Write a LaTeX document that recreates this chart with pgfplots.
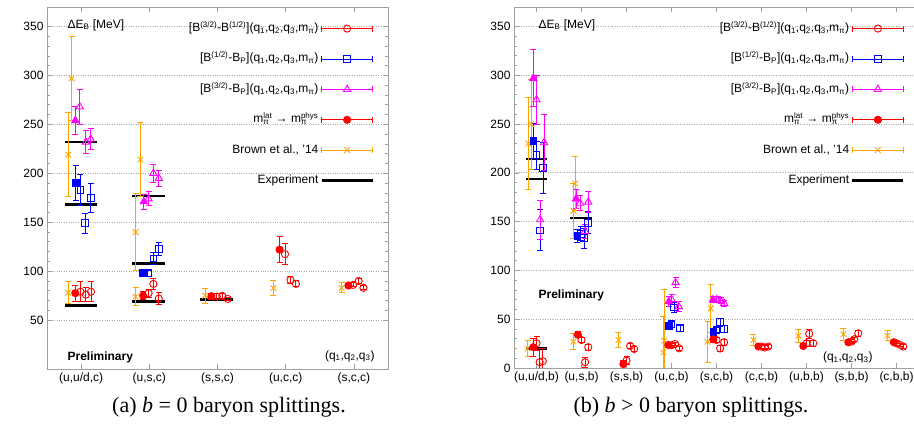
\documentclass[border=0pt]{standalone}
\usepackage{fontspec}
\setmainfont{Liberation Sans}
\newfontfamily\capfont{Liberation Serif}
\usepackage{pgfplots}
\pgfplotsset{compat=1.18}
\definecolor{gporange}{RGB}{255,165,0}
\definecolor{gpmag}{RGB}{255,0,255}
\definecolor{gpred}{RGB}{255,0,0}
\definecolor{gpblue}{RGB}{0,0,255}
\definecolor{gpframe}{RGB}{160,160,160}
\definecolor{gpgrid}{RGB}{170,170,170}

\newcommand\supsub[2]{{\setbox0\hbox{\textsuperscript{#1}}\setbox2\hbox{\textsubscript{#2}}%
  \ifdim\wd0>\wd2 \rlap{\box2}\box0\else\rlap{\box0}\box2\fi}}

\pgfplotsset{
  gpaxis/.style={
    scale only axis, anchor=south west,
    ymin=0, ymax=370, xmin=0.5,
    axis line style={gpframe, line width=0.7pt},
    tick style={gpframe, line width=0.7pt},
    major tick length=5pt, minor tick length=3pt,
    tick align=inside,
    minor y tick num=4,
    ymajorgrids, grid style={gpgrid, dotted, line width=0.8pt},
    /pgf/number format/assume math mode=true,
    tick label style={font=\fontsize{12}{14}\selectfont},
    legend plot pos=right,
    legend cell align=right,
    legend style={draw=none, fill=none, inner sep=0pt, anchor=north east,
      row sep=14.4pt,
      nodes={inner sep=2pt, text height=9pt, text depth=3pt, font=\fontsize{12}{14}\selectfont}},
  },
  eb/.style={only marks, line width=0.9pt, mark size=#1,
    error bars/y dir=both, error bars/y explicit,
    error bars/error bar style={line width=0.9pt},
    error bars/error mark options={rotate=90, mark size=3pt, line width=0.9pt}},
  expt/.style={only marks, mark=none, mark size=0pt, mark options={draw=none, fill=none}, black,
    error bars/x dir=both, error bars/x fixed=0.24, error bars/error mark=none,
    error bars/error bar style={line width=2.4pt, black}},
  legerr/.style n args={3}{legend image code/.code={
    \draw[#1,line width=0.9pt] (0pt,0pt)--(51pt,0pt) (0pt,-3pt)--(0pt,3pt) (51pt,-3pt)--(51pt,3pt);
    \draw[#1,line width=0.9pt] plot[mark=#2, mark size=#3] coordinates {(25.5pt,0pt)};}},
  legexp/.style={legend image code/.code={
    \draw[black,line width=2.4pt] (0pt,0pt)--(51pt,0pt);}},
}
\newcommand\legentries{%
  \addlegendimage{legerr={gpred}{o}{3.6pt}}
  \addlegendentry{[B\textsuperscript{(3/2)}-B\textsuperscript{(1/2)}](q\textsubscript{1},q\textsubscript{2},q\textsubscript{3},m\textsubscript{π})}
  \addlegendimage{legerr={gpblue}{square}{3.4pt}}
  \addlegendentry{[B\textsuperscript{(1/2)}-B\textsubscript{P}](q\textsubscript{1},q\textsubscript{2},q\textsubscript{3},m\textsubscript{π})}
  \addlegendimage{legerr={gpmag}{triangle}{4.2pt}}
  \addlegendentry{[B\textsuperscript{(3/2)}-B\textsubscript{P}](q\textsubscript{1},q\textsubscript{2},q\textsubscript{3},m\textsubscript{π})}
  \addlegendimage{legerr={gpred}{*}{3.6pt}}
  \addlegendentry{m\supsub{lat}{π} → m\supsub{phys}{π}}
  \addlegendimage{legerr={gporange}{x}{4pt}}
  \addlegendentry{Brown et al., '14}
  \addlegendimage{legexp}
  \addlegendentry{Experiment}
}

\begin{document}
\begin{tikzpicture}[font=\fontsize{12}{14}\selectfont]
\useasboundingbox (0,0) rectangle (914pt,434pt);

%================= LEFT PANEL =================
\begin{axis}[gpaxis, at={(47pt,65pt)}, width=341pt, height=362pt,
  xmax=5.5, ytick={50,100,...,350},
  xtick={1,2,3,4,5},
  xticklabels={{(u,u/d,c)},{(u,s,c)},{(s,s,c)},{(u,c,c)},{(s,c,c)}},
  legend style={at={(0.959,0.963)}}]
\legentries
% experiment
\addplot[expt, forget plot] coordinates {(1,232) (1,168) (1,65) (1.99,177) (1.99,108) (1.99,69) (2.99,71)};
% Brown et al.
\addplot[eb=4pt, gporange, mark=x, forget plot] table[x=x,y=y,y error=e] {
x y e
0.86 297 43
0.81 219 43
0.81 78 11
1.87 214 38
1.80 140 39
1.80 74 9
2.82 75 7.5
3.82 82.6 7.5
4.82 83 5
};
% open blue
\addplot[eb=3.4pt, gpblue, mark=square, forget plot] table[x=x,y=y,y error=e] {
x y e
0.99 183 16
1.06 149 10
1.14 175 15
1.98 98 3
2.06 113 6.5
2.14 123 6.5
};
% filled blue
\addplot[eb=3.4pt, gpblue, mark=square*, forget plot] table[x=x,y=y,y error=e] {
x y e
0.92 190 18
1.91 98 3
};
% open magenta
\addplot[eb=4.2pt, gpmag, mark=triangle, forget plot] table[x=x,y=y,y error=e] {
x y e
0.98 268 18
1.07 232 12
1.14 235 11
1.99 174 7
2.06 200 9.5
2.14 195 8
};
% filled magenta
\addplot[eb=4.2pt, gpmag, mark=triangle*, forget plot] table[x=x,y=y,y error=e] {
x y e
0.915 254 14
1.92 171 7.5
};
% open red
\addplot[eb=3.6pt, gpred, mark=o, forget plot] table[x=x,y=y,y error=e] {
x y e
0.99 79 10
1.07 76 7
1.145 79 10
1.99 77.5 4
2.06 87 6
2.14 72 6
2.99 74 3
3.07 74.7 3
3.15 71.6 2
3.99 117.4 11
4.07 91 4
4.15 87 3
4.99 86 2
5.07 90 3
5.14 83 2
};
% filled red
\addplot[eb=3.6pt, gpred, mark=*, forget plot] table[x=x,y=y,y error=e] {
x y e
0.915 77.5 8
1.91 75 4
2.91 74.4 3
3.91 122 13
4.92 85.3 2
};
\node[anchor=west] at (rel axis cs:0.05,0.95) {ΔE\textsubscript{B} [MeV]};
\node[anchor=west, font=\fontsize{12}{14}\selectfont\bfseries] at (rel axis cs:0.05,0.033) {Preliminary};
\node[anchor=east] at (rel axis cs:0.971,0.036) {(q\textsubscript{1},q\textsubscript{2},q\textsubscript{3})};
\end{axis}

%================= RIGHT PANEL =================
\begin{axis}[gpaxis, at={(514pt,66pt)}, width=405pt, height=361pt,
  xmax=9.5, ytick={0,50,...,350},
  xtick={1,...,9},
  xticklabels={{(u,u/d,b)},{(u,s,b)},{(s,s,b)},{(u,c,b)},{(s,c,b)},{(c,c,b)},{(u,b,b)},{(s,b,b)},{(c,b,b)}},
  legend style={at={(0.965,0.963)}}]
\legentries
\addplot[expt, forget plot] coordinates {(1,214) (1,194) (1,20) (1.99,154)};
% Brown et al.
\addplot[eb=4pt, gporange, mark=x, forget plot] table[x=x,y=y,y error=e] {
x y e
0.82 230 47
0.88 250 46
0.80 20 8
1.86 189 28
1.82 161 28
1.82 27 8
2.82 28.7 8
3.82 16 37
3.84 28 52
4.80 27 21
4.87 61 25
5.82 28.7 6
6.82 33 7
7.82 34.6 6
8.80 33 5
};
% open blue
\addplot[eb=3.4pt, gpblue, mark=square, forget plot] table[x=x,y=y,y error=e] {
x y e
1.00 218 14
1.08 141 21
1.15 205 26
1.98 137.6 7
2.06 133 10
2.15 149 11
4.00 45 3
4.06 62 5
4.19 40.7 3
5.00 39 3
5.08 47 4
5.17 40 4
};
% filled blue
\addplot[eb=3.4pt, gpblue, mark=square*, forget plot] table[x=x,y=y,y error=e] {
x y e
0.93 233 18
1.91 135.5 7
3.94 43 3
4.93 37 3
};
% open magenta
\addplot[eb=4.2pt, gpmag, mark=triangle, forget plot] table[x=x,y=y,y error=e] {
x y e
1.00 275 25
1.08 152 20
1.17 231 29
1.97 169 8
2.08 140 7
2.15 170 11
4.00 70.5 5
4.09 87.6 5
4.16 63 5
5.00 70 3
5.09 69 3
5.17 66.4 3
};
% filled magenta
\addplot[eb=4.2pt, gpmag, mark=triangle*, forget plot] table[x=x,y=y,y error=e] {
x y e
0.93 297 29
1.88 173.5 9.5
3.94 68 5
4.92 70 3
};
% open red
\addplot[eb=3.6pt, gpred, mark=o, forget plot] table[x=x,y=y,y error=e] {
x y e
1.00 25.4 7
1.07 6 14
1.14 7 13
2.00 28.7 3
2.08 6 5
2.15 21.3 3
3.00 7.5 4
3.08 22.6 3
3.17 19.5 3
4.00 23.3 2
4.08 24.6 2
4.17 20.2 2
5.00 28.7 3
5.08 20 3
5.17 26.4 3
6.00 22 2
6.07 21 2
6.15 22 2
7.00 25.4 3
7.06 35 5
7.15 25.4 3
8.00 27 2
8.06 29.4 2
8.15 35.6 3
9.00 25.4 2
9.08 23.6 2
9.15 22 2
};
% filled red
\addplot[eb=3.6pt, gpred, mark=*, forget plot] table[x=x,y=y,y error=e] {
x y e
0.93 21.3 9
1.92 34 3
2.93 4 4
3.93 23.6 2
4.93 29.4 3
5.93 22 2
6.93 22.6 3
7.93 26.4 2
8.94 26.4 2
};
\node[anchor=west] at (rel axis cs:0.052,0.95) {ΔE\textsubscript{B} [MeV]};
\node[anchor=west, font=\fontsize{12}{14}\selectfont\bfseries] at (rel axis cs:0.052,0.202) {Preliminary};
\node[anchor=east] at (rel axis cs:0.894,0.03) {(q\textsubscript{1},q\textsubscript{2},q\textsubscript{3})};
\end{axis}

% captions
\node[font=\capfont\fontsize{22}{25}\selectfont] at (229pt,27pt) {(a) \textit{b} = 0 baryon splittings.};
\node[font=\capfont\fontsize{22}{25}\selectfont] at (691pt,27pt) {(b) \textit{b} > 0 baryon splittings.};
\end{tikzpicture}
\end{document}
